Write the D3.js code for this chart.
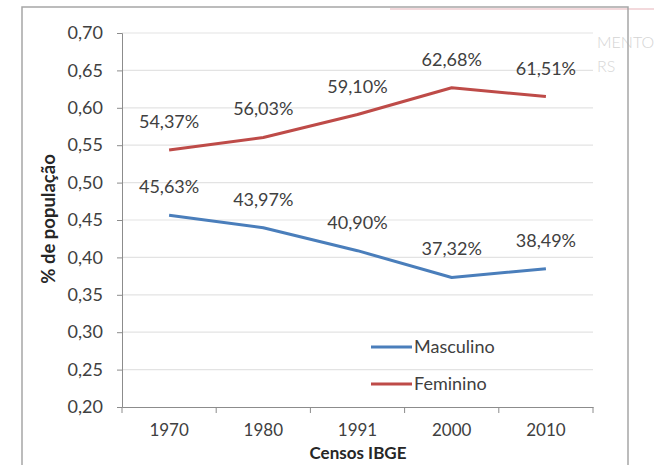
<!DOCTYPE html>
<html><head><meta charset="utf-8">
<script src="https://cdn.jsdelivr.net/npm/d3@7/dist/d3.min.js"></script>
<style>body{margin:0;background:#fff}svg{display:block}text{font-family:Lato,"Open Sans",sans-serif}</style>
</head><body>
<script>
const categories = ["1970","1980","1991","2000","2010"];
const masculino = [0.4563,0.4397,0.4090,0.3732,0.3849];
const feminino  = [0.5437,0.5603,0.5910,0.6268,0.6151];
const mascLabels = ["45,63%","43,97%","40,90%","37,32%","38,49%"];
const femLabels  = ["54,37%","56,03%","59,10%","62,68%","61,51%"];
const yTicks = [0.20,0.25,0.30,0.35,0.40,0.45,0.50,0.55,0.60,0.65,0.70];
const seriesNames = ["Masculino","Feminino"];
const colors = ["#4a7ebb","#be4b48"];

const W=654,H=465,FS=18;
const svg=d3.select("body").append("svg").attr("width",W).attr("height",H);

// faint background artifacts
svg.append("line").attr("x1",390).attr("x2",654).attr("y1",9).attr("y2",9).attr("stroke","#f3d9dc").attr("stroke-width",2);
svg.append("text").attr("x",597).attr("y",48).attr("font-size",16).attr("font-weight",300).attr("fill","#d4d4d4").text("MENTO");
svg.append("text").attr("x",597).attr("y",72).attr("font-size",16).attr("font-weight",300).attr("fill","#d8d8d8").text("RS");

// chart border
svg.append("rect").attr("x",22).attr("y",7).attr("width",606).attr("height",470).attr("fill","none").attr("stroke","#a6a6a6").attr("stroke-width",1.5);

const x0=122,x1=593,yTop=33,yBot=407;
const x=d3.scaleBand().domain(categories).range([x0,x1]);
const y=d3.scaleLinear().domain([0.20,0.70]).range([yBot,yTop]);
const fmt=d=>d3.format(".2f")(d).replace(".",",");

// gridlines
svg.append("g").selectAll("line").data(yTicks.slice(1)).join("line")
 .attr("x1",x0).attr("x2",x1).attr("y1",d=>y(d)).attr("y2",d=>y(d))
 .attr("stroke","#e3e3e3").attr("stroke-width",1.2);

// y axis
const ya=svg.append("g").attr("transform",`translate(${x0},0)`)
 .call(d3.axisLeft(y).tickValues(yTicks).tickFormat(fmt).tickSize(5).tickPadding(14));
ya.select(".domain").attr("stroke","#8c8c8c");
ya.selectAll(".tick line").attr("stroke","#8c8c8c");
ya.selectAll("text").attr("font-size",FS).attr("fill","#404040");

// x axis
const xa=svg.append("g").attr("transform",`translate(0,${yBot})`)
 .call(d3.axisBottom(x).tickSize(0).tickPadding(17));
xa.select(".domain").attr("stroke","#8c8c8c");
xa.selectAll("text").attr("font-size",17).attr("fill","#404040");
const bounds=categories.map(c=>x(c)).concat([x1]);
xa.append("g").selectAll("line").data(bounds).join("line")
 .attr("x1",d=>d).attr("x2",d=>d).attr("y1",0).attr("y2",6).attr("stroke","#8c8c8c");

// axis titles
svg.append("text").attr("transform","translate(55,219) rotate(-90)").attr("text-anchor","middle")
 .attr("font-size",18.5).attr("font-weight","bold").attr("fill","#262626").text("% de população");
svg.append("text").attr("x",358).attr("y",459).attr("text-anchor","middle")
 .attr("font-size",17).attr("font-weight","bold").attr("fill","#262626").text("Censos IBGE");

const cx=c=>x(c)+x.bandwidth()/2;
const line=d3.line().x((d,i)=>cx(categories[i])).y(d=>y(d));
[masculino,feminino].forEach((s,k)=>{
  svg.append("path").datum(s).attr("d",line).attr("fill","none")
   .attr("stroke",colors[k]).attr("stroke-width",3).attr("stroke-linejoin","round");
});
[[masculino,mascLabels],[feminino,femLabels]].forEach(([s,l])=>{
  svg.append("g").selectAll("text").data(s).join("text")
   .attr("x",(d,i)=>cx(categories[i])).attr("y",d=>y(d)-22)
   .attr("text-anchor","middle").attr("font-size",FS).attr("fill","#404040")
   .text((d,i)=>l[i]);
});

// legend
seriesNames.forEach((n,k)=>{
  const ly=347+k*37;
  svg.append("line").attr("x1",371).attr("x2",412).attr("y1",ly).attr("y2",ly)
   .attr("stroke",colors[k]).attr("stroke-width",3);
  svg.append("text").attr("x",414).attr("y",ly+6).attr("font-size",FS).attr("fill","#404040").text(n);
});
</script>
</body></html>
